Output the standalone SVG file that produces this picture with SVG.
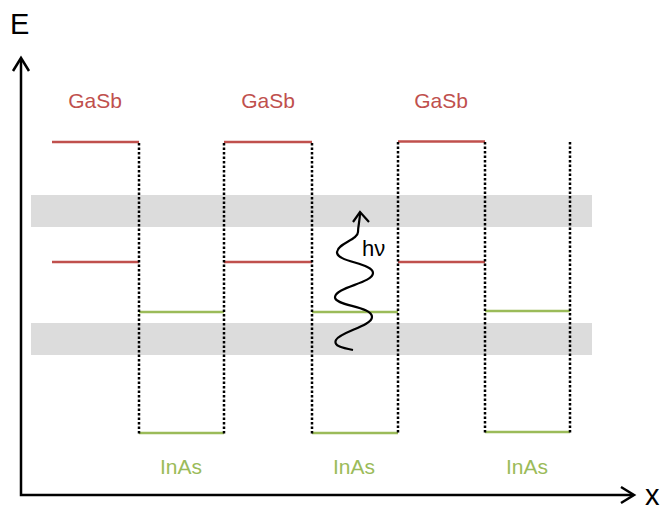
<svg xmlns="http://www.w3.org/2000/svg" width="662" height="510" viewBox="0 0 662 510">
<style>
.band{fill:#dcdcdc}
.dot{stroke:#000;stroke-width:2.5;stroke-dasharray:2.5 2;fill:none}
.red{stroke:#c0504d;stroke-width:2.5}
.grn{stroke:#9bbb59;stroke-width:2.5}
.axis{stroke:#000;stroke-width:2.5;fill:none}
.lg{font-family:"Liberation Sans",Arial,sans-serif;font-size:21px;text-anchor:middle}
.ax{font-family:"Liberation Sans",Arial,sans-serif;font-size:29px;fill:#000}
</style>
<rect width="662" height="510" fill="#fff"/>
<g id="bands">
<rect class="band" x="31" y="195" width="561" height="32"/>
<rect class="band" x="31" y="323" width="561" height="32"/>
</g>
<g id="gasb-levels">
<line class="red" x1="52" y1="142" x2="139" y2="142"/>
<line class="red" x1="224" y1="142" x2="312" y2="142"/>
<line class="red" x1="398" y1="141.5" x2="485" y2="141.5"/>
<line class="red" x1="52" y1="262" x2="139" y2="262"/>
<line class="red" x1="224" y1="262" x2="312" y2="262"/>
<line class="red" x1="398" y1="262" x2="485" y2="262"/>
</g>
<g id="inas-levels">
<line class="grn" x1="139" y1="312" x2="224" y2="312"/>
<line class="grn" x1="312" y1="312" x2="398" y2="312"/>
<line class="grn" x1="485" y1="311" x2="570" y2="311"/>
<line class="grn" x1="139" y1="433" x2="224" y2="433"/>
<line class="grn" x1="312" y1="433" x2="398" y2="433"/>
<line class="grn" x1="485" y1="432" x2="570" y2="432"/>
</g>
<g id="connectors">
<line class="dot" x1="139" y1="143" x2="139" y2="434"/>
<line class="dot" x1="224" y1="143" x2="224" y2="434"/>
<line class="dot" x1="312" y1="143" x2="312" y2="434"/>
<line class="dot" x1="398" y1="142" x2="398" y2="434"/>
<line class="dot" x1="485" y1="142" x2="485" y2="434"/>
<line class="dot" x1="570" y1="142" x2="570" y2="433"/>
</g>
<g id="axes">
<polyline class="axis" points="21,59 21,495 633,495"/>
<polyline class="axis" points="13,71 21,58 29,71"/>
<polyline class="axis" points="621,487 634,495 621,503"/>
<text class="ax" x="10" y="34">E</text>
<text class="ax" x="645" y="505">x</text>
</g>
<g id="photon">
<path d="M353,350 C343,348 333,346 336,340 C340,332 372,326 372,317 C372,306 334,306 335,297 C336,287 373,283 373,273 C373,263 336,262 337,252 C338,243 358,240 358,232 C358,226 360,220 360,213" fill="none" stroke="#000" stroke-width="2.2"/>
<polyline points="353,222 360,212 369,222" fill="none" stroke="#000" stroke-width="2.2"/>
<text x="362" y="256" font-family="'Liberation Sans',Arial,sans-serif" font-size="22" fill="#000">hν</text>
</g>
<g id="labels-gasb" fill="#c0504d">
<text class="lg" x="95" y="108">GaSb</text>
<text class="lg" x="268" y="108">GaSb</text>
<text class="lg" x="441" y="108">GaSb</text>
</g>
<g id="labels-inas" fill="#9bbb59">
<text class="lg" x="181" y="474">InAs</text>
<text class="lg" x="354" y="474">InAs</text>
<text class="lg" x="527" y="474">InAs</text>
</g>
</svg>
